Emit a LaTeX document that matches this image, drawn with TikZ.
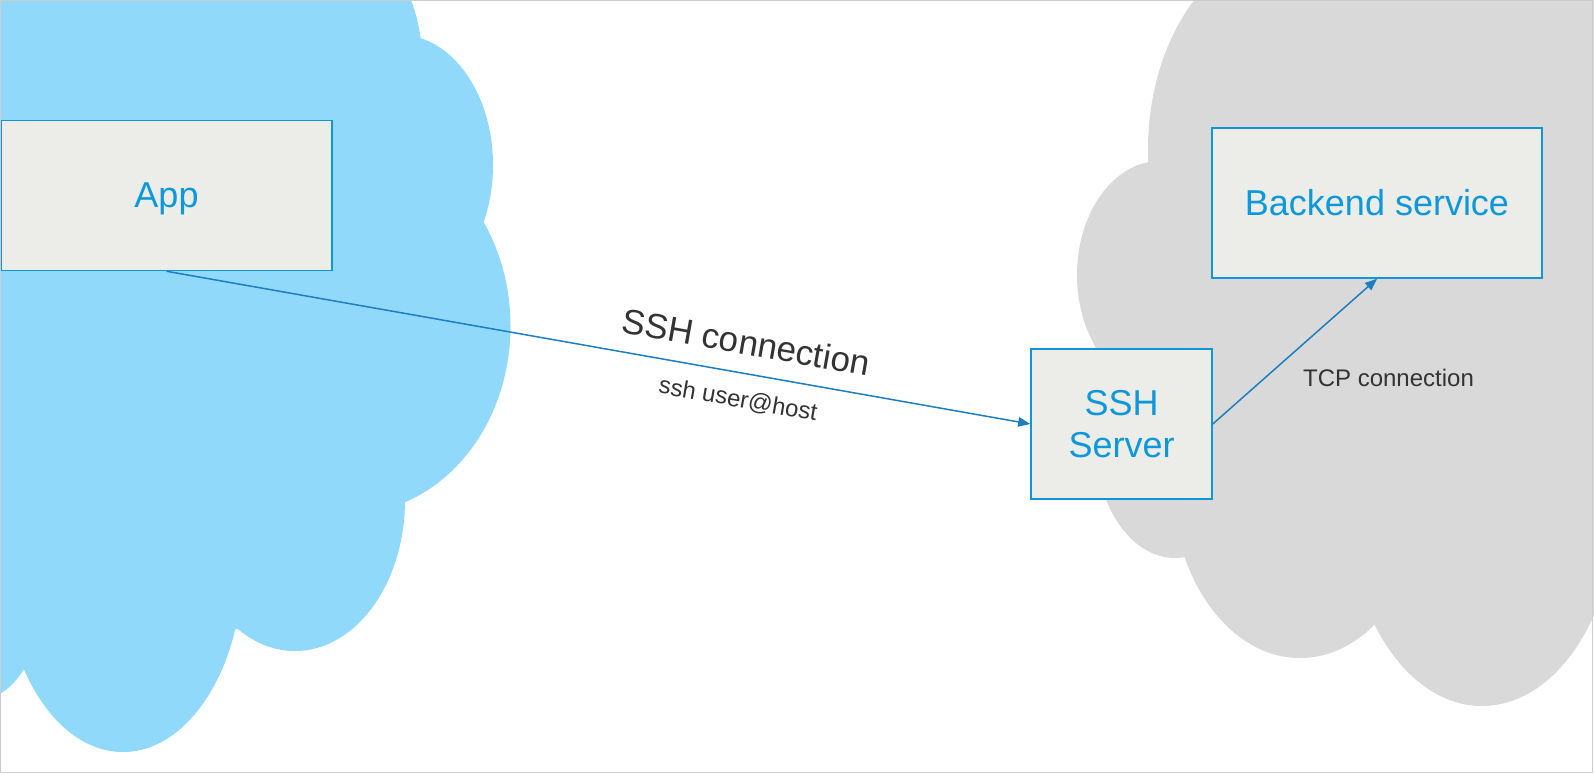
\documentclass[tikz,border=0pt]{standalone}
\usepackage{fontspec}
\setmainfont{Liberation Sans}
\usetikzlibrary{arrows.meta}
\definecolor{cloudblue}{HTML}{91D9FB}
\definecolor{cloudgray}{HTML}{D9D9D9}
\definecolor{boxfill}{HTML}{ECEDE9}
\definecolor{boxline}{HTML}{0E96D8}
\definecolor{textblue}{HTML}{0D98DB}
\definecolor{connline}{HTML}{1B7FC1}
\definecolor{labelgray}{HTML}{333333}
\definecolor{bordergray}{HTML}{CCCCCC}
\begin{document}
\begin{tikzpicture}[x=1pt,y=-1pt,
  box/.style={draw=boxline, line width=1.5pt, fill=boxfill, text=textblue,
    font=\fontsize{36}{42}\selectfont, inner sep=0pt, align=center},
  conn/.style={draw=connline, line width=1.5pt, -{Triangle[length=12pt,width=9.5pt]}},
  lbl/.style={text=labelgray, inner sep=0pt}]
\useasboundingbox (0,0) rectangle (1594,774);
\fill[white] (0,0) rectangle (1594,774);
\begin{scope}
  \clip (0,0) rectangle (1594,774);
  % left cloud
  \fill[cloudblue] (250,60) ellipse [x radius=172pt, y radius=170pt];
  \fill[cloudblue] (400,165) ellipse [x radius=93pt, y radius=130pt];
  \fill[cloudblue] (350,326) ellipse [x radius=160.5pt, y radius=187.5pt];
  \fill[cloudblue] (295,500) ellipse [x radius=110pt, y radius=151pt];
  \fill[cloudblue] (123,562) ellipse [x radius=120pt, y radius=190pt];
  \fill[cloudblue] (-30,610) ellipse [x radius=70pt, y radius=93pt];
  \fill[cloudblue] (-5,-5) -- (405,-5) -- (418,38) -- (482,225) -- (402,503)
    -- (242,628) -- (24,668) -- (-5,690) -- cycle;
  % right cloud
  \fill[cloudgray] (1290,150) ellipse [x radius=142pt, y radius=203pt];
  \fill[cloudgray] (1160,275) ellipse [x radius=83pt, y radius=114pt];
  \fill[cloudgray] (1175,440) ellipse [x radius=80pt, y radius=118pt];
  \fill[cloudgray] (1300,480) ellipse [x radius=128pt, y radius=178pt];
  \fill[cloudgray] (1482,500) ellipse [x radius=135pt, y radius=206pt];
  \fill[cloudgray] (1200,-5) -- (1600,-5) -- (1600,605) -- (1440,600) -- (1380,625)
    -- (1190,555) -- (1110,480) -- (1090,300) -- (1150,165) -- cycle;
\end{scope}
% boxes
\node[box, text depth=0pt, minimum width=331pt, minimum height=150pt] (app) at (166.5,195.5) {App};
\node[box, minimum width=181pt, minimum height=150pt] (ssh) at (1121.5,424) {SSH\\Server};
\node[box, minimum width=330pt, minimum height=150pt] (backend) at (1377,203) {Backend service};
% connectors
\draw[conn] (app.south) -- (ssh.west);
\draw[conn] (ssh.east) -- (backend.south);
% labels
\node[lbl, font=\fontsize{35}{40}\selectfont, rotate=-10.03] (sshlabel) at (746,342) {SSH connection};
\node[lbl, font=\fontsize{24}{28}\selectfont, rotate=-10.03] (cmdlabel) at (738,400) {ssh user@host};
\node[lbl, font=\fontsize{24}{28}\selectfont] (tcplabel) at (1388.5,377.5) {TCP connection};
% border
\draw[bordergray, line width=1.2pt] (0.6,0.6) rectangle (1592.6,772.6);
\end{tikzpicture}
\end{document}
